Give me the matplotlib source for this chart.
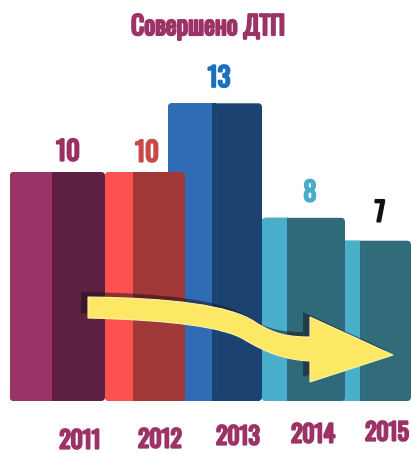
import matplotlib
matplotlib.use("Agg")
import matplotlib.pyplot as plt
from matplotlib.patches import FancyBboxPatch, PathPatch
from matplotlib.path import Path
import matplotlib.patheffects as pe

years = ["2011", "2012", "2013", "2014", "2015"]
values = [10, 10, 13, 8, 7]
title = "Совершено ДТП"

# layout (pixels) and styling
lefts = [10, 105, 168, 262, 335]
widths = [95, 80, 94, 83, 76]
light_frac = [0.44, 0.35, 0.47, 0.30, 0.33]
light_cols = ["#9a3366", "#fe5250", "#2e6cb6", "#4aafcb", "#4aafcb"]
dark_cols = ["#5e2040", "#a03837", "#1c4272", "#2e6a7a", "#326b7a"]
label_cols = ["#9b3060", "#c94848", "#1a70c0", "#4aaccc", "#111111"]
zorders = [5, 5, 3, 4, 3]
label_x = [68, 147, 219, 310, 380]
label_off_pt = [14.4, 13.7, 18, 18, 20]
year_x = [80, 160, 238, 313, 387]
year_y = [441, 440, 437, 435, 433]

FAM = ["Oswald", "DejaVu Sans"]


def bold(c, w=1.4):
    return [pe.withStroke(linewidth=w, foreground=c)]


W, H = 411, 453
fig = plt.figure(figsize=(W / 100, H / 100), dpi=100)
base_px = 401
scale = 22.9
ax = fig.add_axes([0, 0, 1, 1])
ax.set_xlim(0, W)
ax.set_ylim(-(H - base_px) / scale, base_px / scale)
ax.axis("off")

for i, v in enumerate(values):
    l, w = lefts[i], widths[i]
    lw_ = w * light_frac[i]
    ax.add_patch(FancyBboxPatch((l, 0), w, v, boxstyle="round,pad=0,rounding_size=4",
                                mutation_aspect=1 / scale, fc=dark_cols[i], ec="none",
                                zorder=zorders[i]))
    ax.add_patch(FancyBboxPatch((l, 0), lw_ + 4, v, boxstyle="round,pad=0,rounding_size=4",
                                mutation_aspect=1 / scale, fc=light_cols[i], ec="none",
                                zorder=zorders[i]))
    ax.add_patch(plt.Rectangle((l + lw_, 0), 4, v, fc=dark_cols[i], ec="none",
                               zorder=zorders[i]))
    ax.annotate(str(v), (label_x[i], v), xytext=(0, label_off_pt[i]),
                textcoords="offset points", ha="center", va="center",
                fontsize=19, fontweight="bold", color=label_cols[i],
                family=FAM, zorder=10, path_effects=bold(label_cols[i], 1.6))

# overlay in pixel coordinates for decorations
ov = fig.add_axes([0, 0, 1, 1], facecolor="none")
ov.set_xlim(0, W)
ov.set_ylim(H, 0)
ov.axis("off")

verts = [(88, 297), (170, 298), (230, 305), (255, 322),
         (275, 335), (290, 337), (310, 337),
         (310, 317), (393, 355), (310, 382), (310, 361),
         (285, 360), (265, 352), (245, 340),
         (225, 327), (170, 320), (88, 318), (88, 297)]
codes = [Path.MOVETO, Path.CURVE4, Path.CURVE4, Path.CURVE4,
         Path.CURVE4, Path.CURVE4, Path.CURVE4,
         Path.LINETO, Path.LINETO, Path.LINETO, Path.LINETO,
         Path.CURVE4, Path.CURVE4, Path.CURVE4,
         Path.CURVE4, Path.CURVE4, Path.CURVE4, Path.CLOSEPOLY]
shadow = Path([(x - 7, y - 5) for x, y in verts], codes)
ov.add_patch(PathPatch(shadow, fc="#1a0f18", ec="none", alpha=0.5, zorder=8))
ov.add_patch(PathPatch(Path(verts, codes), fc="#fde866", ec="#fff3a0", lw=0.8, zorder=9))

for i, y in enumerate(years):
    ov.text(year_x[i], year_y[i], y, ha="center", va="center", fontsize=17,
            fontweight="bold", color="#9b3366", family=FAM,
            path_effects=bold("#9b3366", 1.6))

fig.text(208 / W, 1 - 27 / H, title, ha="center", va="center", fontsize=18.5,
         fontweight="bold", color="#9b3366", family=FAM,
         path_effects=bold("#9b3366", 1.5))

fig.savefig("out.png", dpi=100)
